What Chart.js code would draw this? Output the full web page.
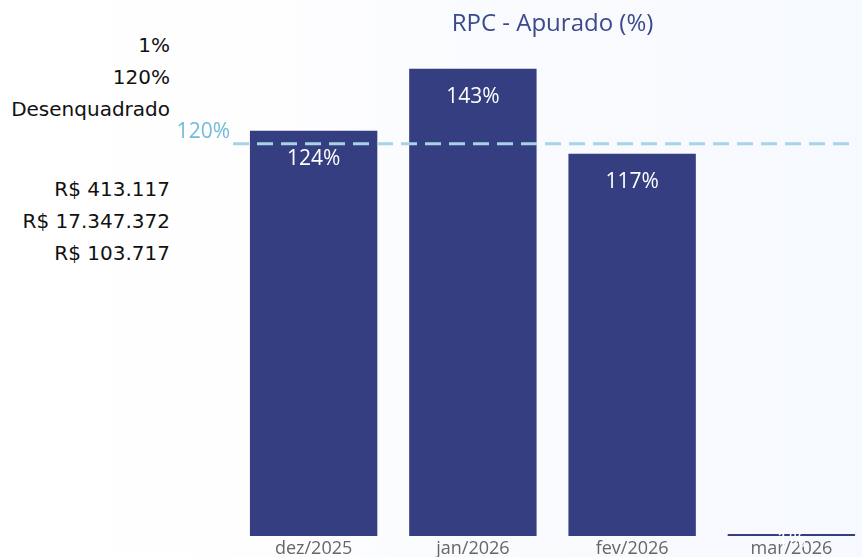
<!DOCTYPE html>
<html>
<head>
<meta charset="utf-8">
<script src="https://cdn.jsdelivr.net/npm/chart.js@4.4.0/dist/chart.umd.min.js"></script>
<style>
  html, body { margin:0; padding:0; width:862px; height:557px; overflow:hidden; }
  body { background: linear-gradient(to right, #FFFFFF 0%, #FEFEFF 30%, #FAFBFE 55%, #F6F9FF 100%); }
  #wrap { position:absolute; left:0; top:0; width:872px; height:557px; }
  .lbl { position:absolute; right:692px; font-family:"DejaVu Sans", sans-serif; font-size:20px; color:#111; white-space:nowrap; line-height:20px; }
</style>
</head>
<body>
<div class="lbl" style="top:35px">1%</div>
<div class="lbl" style="top:67px">120%</div>
<div class="lbl" style="top:99px">Desenquadrado</div>
<div class="lbl" style="top:179px">R$ 413.117</div>
<div class="lbl" style="top:211px">R$ 17.347.372</div>
<div class="lbl" style="top:243px">R$ 103.717</div>
<div id="wrap"><canvas id="c" width="872" height="557"></canvas></div>
<script>
const categories = ["dez/2025", "jan/2026", "fev/2026", "mar/2026"];
const values = [124, 143, 117, 0.6];
const targetValue = 120;
const targetLabel = "120%";
const titleText = "RPC - Apurado (%)";

const barLabels = {
  id: 'barLabels',
  afterDraw(chart) {
    const ctx = chart.ctx;
    const meta = chart.getDatasetMeta(0);
    ctx.save();
    ctx.font = '21px "Open Sans", "Noto Sans", sans-serif';
    ctx.fillStyle = '#FFFFFF';
    ctx.textAlign = 'center';
    ctx.textBaseline = 'middle';
    meta.data.forEach((bar, i) => {
      const y = Math.min(bar.y + 28, bar.base + 5);
      ctx.fillText(Math.round(values[i]) + '%', bar.x, y);
    });
    ctx.restore();
  }
};

const targetLine = {
  id: 'targetLine',
  afterDatasetsDraw(chart) {
    const ctx = chart.ctx;
    const y = chart.scales.y.getPixelForValue(targetValue);
    const area = chart.chartArea;
    ctx.save();
    ctx.strokeStyle = '#A8D3E7';
    ctx.lineWidth = 3;
    ctx.setLineDash([16, 8]);
    ctx.beginPath();
    ctx.moveTo(area.left - 1, y);
    ctx.lineTo(855, y);
    ctx.stroke();
    ctx.setLineDash([]);
    ctx.font = '21px "Open Sans", "Noto Sans", sans-serif';
    ctx.fillStyle = '#72BBD9';
    ctx.textAlign = 'right';
    ctx.textBaseline = 'middle';
    ctx.fillText(targetLabel, area.left - 4, y - 12);
    ctx.restore();
  }
};

new Chart(document.getElementById('c'), {
  type: 'bar',
  data: {
    labels: categories,
    datasets: [{
      data: values,
      backgroundColor: '#343E80',
      categoryPercentage: 0.8,
      barPercentage: 1.0,
      minBarLength: 2
    }]
  },
  options: {
    responsive: false,
    animation: false,
    devicePixelRatio: 1,
    layout: { padding: { left: 234, right: 1, top: 4, bottom: 0 } },
    plugins: {
      legend: { display: false },
      tooltip: { enabled: false },
      title: {
        display: true,
        text: titleText,
        fullSize: false,
        color: '#3A4A8C',
        font: { family: '"Open Sans", "Noto Sans", sans-serif', size: 24, weight: 'normal', lineHeight: 1.2 },
        padding: { top: 6, bottom: 7 }
      }
    },
    scales: {
      x: {
        grid: { display: false, drawTicks: false },
        border: { display: false },
        ticks: { color: '#666666', font: { family: '"Open Sans", "Noto Sans", sans-serif', size: 18, lineHeight: 1.0 }, padding: 4 },
        afterFit(scale) { scale.height = 21; }
      },
      y: {
        display: false,
        min: 0,
        max: 150
      }
    }
  },
  plugins: [targetLine, barLabels]
});
</script>
</body>
</html>
